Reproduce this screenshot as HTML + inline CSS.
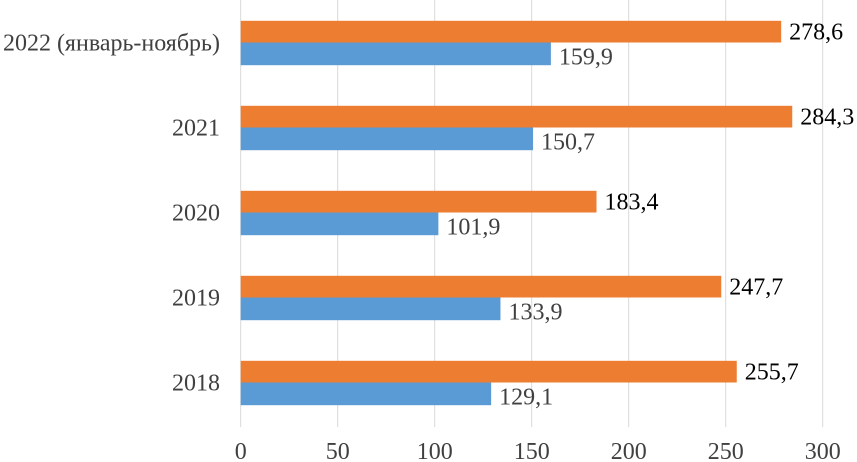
<!DOCTYPE html>
<html><head><meta charset="utf-8"><style>
html,body{margin:0;padding:0;background:#fff;}
svg{display:block;font-family:"Liberation Serif","DejaVu Serif",serif;}
</style></head><body>
<svg id="chart" width="857" height="462"></svg>
<script>
const categories = ["2022 (январь-ноябрь)","2021","2020","2019","2018"];
const seriesOrange = [278.6,284.3,183.4,247.7,255.7];
const seriesBlue = [159.9,150.7,101.9,133.9,129.1];
const ticks = [0,50,100,150,200,250,300];
const fmt = v => v.toFixed(1).replace('.',',');

const svg = document.getElementById('chart');
const NS = 'http://www.w3.org/2000/svg';
const x0 = 240.7, kx = 1.94, plotTop = 0, band = 85, bh = 21.7;
const xs = v => x0 + v*kx;
const yc = i => plotTop + band/2 + i*band;
function mk(tag, attrs){const e=document.createElementNS(NS,tag);for(const k in attrs)e.setAttribute(k,attrs[k]);svg.appendChild(e);return e;}

ticks.forEach(t=>{
  const g = mk('line',{x1:xs(t),x2:xs(t),y1:0,y2:427,stroke:'#d9d9d9','stroke-width':1});
  
  
  const l = mk('text',{x:xs(t),y:459,'text-anchor':'middle','font-size':24,fill:'#404040'});
  l.textContent = t;
  
  
});

categories.forEach((c,i)=>{
  const cy = yc(i);
  const lab = mk('text',{x:220,y:cy+8,'text-anchor':'end','font-size':24,fill:'#404040'});
  lab.textContent = c;
  
  
  const ro = mk('rect',{x:xs(0),y:cy-bh,width:seriesOrange[i]*kx,height:bh,fill:'#ed7d31'});
  
  
  const rb = mk('rect',{x:xs(0),y:cy,width:seriesBlue[i]*kx,height:bh+1,fill:'#5b9bd5'});
  
  
  const to = mk('text',{x:xs(seriesOrange[i])+8,y:cy-bh/2+8,'font-size':24,fill:'#000'});
  to.textContent = fmt(seriesOrange[i]);
  
  
  const tb = mk('text',{x:xs(seriesBlue[i])+8,y:cy+bh/2+11,'font-size':24,fill:'#404040'});
  tb.textContent = fmt(seriesBlue[i]);
  
  
});
</script>
</body></html>
